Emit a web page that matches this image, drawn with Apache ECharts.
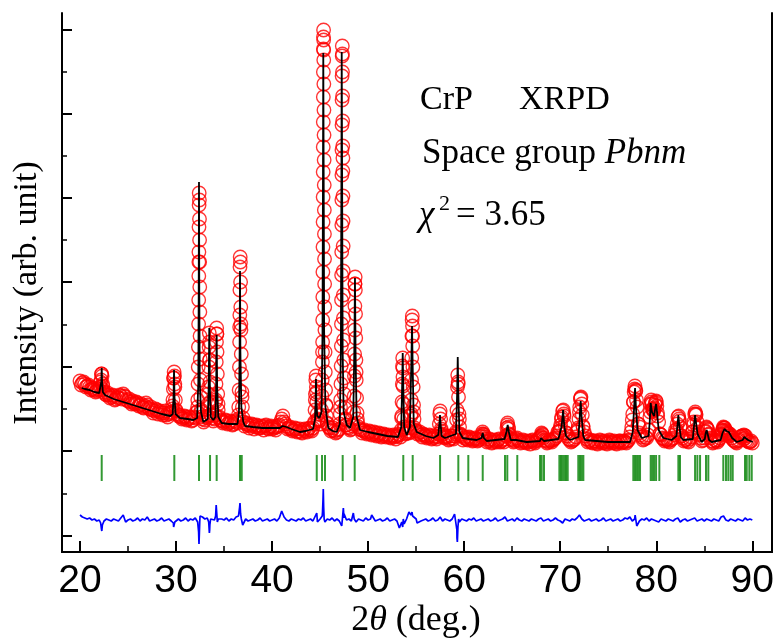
<!DOCTYPE html>
<html>
<head>
<meta charset="utf-8">
<script src="https://cdn.jsdelivr.net/npm/echarts@6/dist/echarts.min.js"></script>
<style>html,body{margin:0;padding:0;background:#fff}#c{width:776px;height:641px}</style>
</head>
<body>
<div id="c"></div>
<script>
// ---- axis ticks ----
const xMajorTicks = [20, 30, 40, 50, 60, 70, 80, 90];
const xMinorTicks = [25, 35, 45, 55, 65, 75, 85];
const yMajorTicks = [16.3, 101, 185.3, 270, 354, 438.3, 522.7];
const yMinorTicks = [58.6, 143.2, 227.6, 312, 396.2, 480.5];

// ---- observed intensity, regular 2theta grid (20.00 .. 90.00, step 0.25) ----
const obsStart = 20, obsStep = 0.25;
const obsGrid = [
171,169,168,166,165,163,162,161,162,178,
160,157,157,155,156,153,154,156,158,155,
151,150,151,148,149,147,145,146,147,143,
142,141,142,140,139,139,137,138,140,174,
141,136,135,134,135,133,134,132,134,145,
216,133,132,134,192,134,133,218,135,131,
130,131,129,130,128,130,137,228,130,128,
127,126,127,125,126,124,125,126,124,125,
123,124,125,127,133,130,126,124,123,122,
123,121,120,122,121,123,122,124,152,133,
128,200,222,128,124,122,121,120,123,300,
158,127,124,123,140,180,125,122,121,120,
119,120,118,119,117,118,116,117,116,115,
116,115,116,117,136,125,119,119,138,140,
121,119,117,118,116,115,116,114,115,115,
141,118,114,115,113,114,116,142,133,116,
114,113,115,113,112,113,112,115,118,113,
111,112,110,111,112,110,112,113,127,117,
112,111,114,111,110,111,109,110,111,110,
111,113,116,114,111,110,111,112,114,120,
124,141,127,116,112,111,113,120,140,148,
120,113,111,110,111,109,110,111,110,109,
110,111,110,109,110,111,110,110,111,115,
132,163,145,125,115,113,114,122,150,142,
150,130,117,113,112,111,112,114,122,135,
125,114,112,111,113,120,138,130,118,111,
114,124,118,111,110,111,112,118,124,121,
119,117,112,110,111,115,116,114,111,110,
109];
// interleaved observed points (20.125 .. 89.875, step 0.25)
const obsStart2 = 20.125;
const obsGrid2 = [
167,170,165,167,162,164,160,163,170,166,
158,159,154,157,152,155,157,153,156,152,
153,148,149,150,146,148,144,149,144,145,
139,143,138,141,137,141,135,139,146,168,
138,137,133,136,132,135,131,135,140,290,
140,130,135,158,137,131,152,148,132,129,
132,128,131,127,131,129,225,155,126,129,
124,128,123,127,124,126,122,127,123,126,
125,122,126,130,136,128,123,125,121,124,
120,123,119,123,120,124,121,128,160,131,
137,502,146,125,121,124,119,122,145,394,
132,125,122,126,268,133,123,119,122,118,
121,117,120,116,119,115,118,115,117,114,
117,113,118,115,175,118,121,120,216,122,
118,120,115,117,114,117,113,116,113,118,
121,115,116,112,116,113,118,168,117,112,
115,112,114,111,114,111,113,118,115,110,
113,109,112,110,113,111,110,116,123,113,
110,113,112,109,112,110,111,108,112,109,
112,114,118,112,109,112,110,113,116,121,
133,138,119,113,110,112,115,124,154,126,
116,110,112,109,111,108,112,109,111,108,
112,109,111,108,111,109,111,109,112,120,
150,161,128,117,112,115,117,140,143,147,
139,118,114,111,113,110,113,117,122,133,
116,111,113,110,115,127,138,120,114,112,
120,122,114,109,112,110,114,121,124,119,
118,114,111,109,112,116,117,112,110,111];

// ---- observed intensity, extra points across the Bragg peaks [2theta, I] ----
const obsPeaks = [
[22.15,165],[22.2,172],[22.24,178],[22.3,176],[22.35,168],[22.42,162],
[29.62,143],[29.68,152],[29.72,163],[29.76,174],[29.8,180],[29.84,176],[29.88,165],[29.93,152],[30.0,142],
[32.22,140],[32.26,152],[32.29,168],[32.31,185],[32.33,205],[32.35,228],[32.36,252],[32.37,276],[32.38,300],[32.39,325],[32.40,347],[32.41,359],[32.43,352],[32.44,333],[32.45,312],[32.46,290],[32.47,265],[32.48,240],[32.52,193],[32.54,172],[32.57,155],[32.61,142],[32.67,135],
[33.3,136],[33.35,148],[33.39,165],[33.42,185],[33.44,205],[33.46,219],[33.48,210],[33.5,192],[33.53,170],[33.57,150],[33.62,137],
[34.07,137],[34.12,150],[34.16,168],[34.19,190],[34.21,210],[34.23,224],[34.25,218],[34.27,200],[34.3,178],[34.34,158],[34.39,142],[34.45,134],
[36.48,133],[36.53,145],[36.57,162],[36.6,185],[36.62,210],[36.64,237],[36.65,262],[36.66,285],[36.68,295],[36.7,290],[36.72,270],[36.74,245],[36.76,222],[36.79,198],[36.82,178],[36.86,160],[36.91,145],[36.98,134],
[44.42,130],[44.47,142],[44.51,158],[44.55,172],[44.58,176],[44.61,165],[44.65,150],[44.7,138],[44.78,132],
[45.1,132],[45.15,142],[45.19,156],[45.22,172],[45.24,190],[45.26,210],[45.27,232],[45.28,255],[45.29,280],[45.3,305],[45.31,330],[45.315,355],[45.32,380],[45.325,405],[45.33,430],[45.335,455],[45.34,480],[45.345,503],[45.35,515],[45.36,522],[45.37,512],[45.38,492],[45.39,468],[45.4,442],[45.41,417],[45.42,392],[45.43,367],[45.44,342],[45.45,318],[45.46,293],[45.47,268],[45.48,245],[45.52,200],[45.54,180],[45.57,162],[45.61,147],[45.66,136],[45.73,129],
[47.05,128],[47.1,138],[47.14,152],[47.17,168],[47.19,186],[47.21,206],[47.22,228],[47.23,252],[47.24,277],[47.26,327],[47.265,352],[47.27,377],[47.275,402],[47.28,427],[47.285,452],[47.29,476],[47.3,496],[47.31,506],[47.32,498],[47.33,480],[47.34,456],[47.35,431],[47.36,406],[47.37,381],[47.38,356],[47.39,331],[47.4,306],[47.41,281],[47.42,257],[47.43,234],[47.45,212],[47.47,192],[47.49,174],[47.56,144],[47.61,133],[47.68,127],
[48.45,128],[48.54,156],[48.57,176],[48.59,198],[48.61,222],[48.62,246],[48.63,268],[48.65,275],[48.67,262],[48.69,238],[48.71,214],[48.73,192],[48.76,172],[48.8,154],[48.85,139],[48.92,129],
[53.44,122],[53.49,134],[53.53,150],[53.56,168],[53.58,186],[53.6,194],[53.62,184],[53.64,166],[53.67,148],[53.71,133],[53.77,123],
[54.4,124],[54.45,136],[54.49,152],[54.52,172],[54.54,194],[54.56,216],[54.58,232],[54.6,236],[54.62,226],[54.64,206],[54.66,185],[54.69,165],[54.73,147],[54.78,133],[54.85,124],
[57.35,118],[57.41,128],[57.46,138],[57.55,133],[57.61,123],[57.68,117],
[59.15,120],[59.21,132],[59.3,165],[59.33,177],[59.37,170],[59.41,155],[59.46,138],[59.52,125],[59.6,118],
[61.85,116],[61.92,120],[62.06,117],
[64.38,116],[64.45,124],[64.52,129],[64.6,125],[64.68,118],
[67.98,115],[68.06,119],[68.14,117],
[69.95,120],[70.05,127],[70.15,135],[70.32,142],[70.4,136],[70.6,119],
[71.85,122],[71.95,133],[72.03,145],[72.1,153],[72.16,155],[72.3,137],[72.38,125],
[77.45,125],[77.55,138],[77.63,150],[77.7,160],[77.78,166],[77.86,162],[77.94,152],[78.12,128],[78.22,119],
[79.33,135],[79.4,148],[79.47,152],[79.55,148],[79.63,143],[79.72,141],[79.8,144],[79.9,149],[79.98,151],[80.06,146],[80.15,136],[80.35,118],
[82.1,120],[82.18,128],[82.33,136],[82.41,131],[82.6,116],
[83.8,120],[83.9,130],[84.06,140],[84.14,137],[84.32,124],[84.42,117],
[85.13,121],[85.22,125],[85.31,123],[85.4,117],
[86.8,117],[86.9,122],[86.99,125],[87.08,124],[87.17,122],[87.3,120],[87.42,118],[87.6,116],
[89.1,113],[89.2,116],[89.3,116]
];

// ---- calculated profile [2theta, I] ----
const calcProfile = [
[20.18,164],[20.5,163],[21.0,162],[21.5,160],[22.0,159],[22.15,161],[22.22,170],[22.26,184],[22.3,170],[22.38,160],[22.6,157],
[23.5,153],[24.5,150],[25.5,147],[26.5,144],[27.5,141],[28.5,138],[29.4,136],[29.65,138],[29.74,155],[29.79,182],[29.84,155],[29.95,138],[30.4,134],[31.2,133],[31.8,132],
[32.2,134],[32.32,170],[32.36,260],[32.39,370],[32.42,260],[32.47,170],[32.6,140],[32.84,130],
[33.3,133],[33.4,165],[33.46,224],[33.52,165],[33.62,135],[33.88,132],
[34.1,135],[34.18,165],[34.23,217],[34.28,165],[34.4,135],[34.75,129],[35.5,128],
[36.4,128],[36.55,140],[36.62,200],[36.66,281],[36.7,200],[36.8,145],[37.0,130],[37.18,126],
[38.0,125],[39.0,124],[40.0,124],[40.8,124],[41.1,126],[41.5,125],[42.0,123],[42.9,120],[43.5,121],[44.26,123],
[44.48,133],[44.54,155],[44.57,173],[44.61,150],[44.7,136],[44.92,134],
[45.15,140],[45.25,220],[45.3,380],[45.33,499],[45.37,380],[45.42,220],[45.55,145],[45.85,124],[46.3,121],[46.73,120],
[47.05,128],[47.16,200],[47.22,380],[47.25,500],[47.29,380],[47.35,200],[47.45,140],[47.77,127],[48.11,124],
[48.45,135],[48.56,200],[48.63,274],[48.69,200],[48.8,135],[49.15,122],[50.0,120],[51.0,118],[52.0,116],[53.11,115],
[53.45,125],[53.55,170],[53.6,199],[53.65,170],[53.75,125],[54.02,117],
[54.35,125],[54.5,190],[54.57,226],[54.63,190],[54.75,128],[55.06,120],[56.0,116],[56.79,114],
[57.3,117],[57.44,130],[57.48,137],[57.53,130],[57.65,116],[58.0,114],
[59.15,118],[59.27,160],[59.33,195],[59.39,160],[59.5,120],[59.85,114],[60.5,113],[61.3,112],
[61.8,114],[61.93,119],[62.05,114],[62.35,111],[64.2,113],[64.4,120],[64.53,127],[64.65,120],[64.85,112],
[65.4,112],[65.5,114],[65.6,112],[66.51,110],[67.9,111],[68.0,114],[68.07,116],[68.14,114],[68.3,111],
[69.8,113],[69.95,118],[70.05,120],[70.15,126],[70.3,142],[70.42,126],[70.6,116],[71.0,112],
[71.9,115],[72.03,135],[72.13,151],[72.23,135],[72.4,116],[72.58,112],[75.0,110],[77.27,110],
[77.55,120],[77.7,145],[77.79,164],[77.88,145],[78.05,122],[78.49,114],
[79.2,116],[79.32,130],[79.42,149],[79.55,140],[79.77,136],[79.9,144],[79.98,148],[80.08,140],[80.25,122],[80.74,114],
[81.6,112],[82.1,116],[82.22,128],[82.3,137],[82.38,128],[82.55,115],[82.82,112],
[83.8,113],[83.95,128],[84.04,137],[84.13,130],[84.3,118],[84.73,110],
[85.05,113],[85.15,119],[85.25,122],[85.35,118],[85.5,112],[85.77,110],
[86.7,112],[86.9,119],[87.09,123],[87.3,121],[87.55,120],[87.68,119],[87.9,114],[88.38,110],
[89.0,112],[89.15,115],[89.24,117],[89.35,115],[89.55,112],[90.04,110]
];

// ---- difference curve (Iobs - Icalc, offset), grid 20.00 .. 90.00 step 0.25 ----
const diffGrid = [
37,35,34,33,34,32,33,31,32,23,
31,33,32,31,33,32,31,34,37,30,
32,33,31,32,34,31,33,32,35,31,
32,33,31,32,34,31,32,33,31,25,
32,33,31,32,34,31,33,32,34,30,
36,35,33,34,22,34,32,38,31,33,
32,34,31,33,32,35,36,40,29,33,
31,32,33,31,32,34,31,32,33,31,
32,33,31,34,41,35,32,31,33,32,
31,33,32,34,31,32,33,31,36,30,
33,40,30,33,32,34,31,33,31,26,
38,32,33,31,37,30,33,32,31,34,
32,33,36,31,32,33,31,32,34,31,
32,33,31,24,30,28,33,40,38,36,
33,27,31,32,33,31,32,34,31,32,
35,31,33,32,31,33,38,14,30,33,
32,31,33,32,34,31,32,33,31,32,
33,31,32,34,31,32,33,35,31,32,
33,31,34,32,31,33,32,31,33,32,
31,33,34,31,32,33,31,32,34,32,
31,29,33,32,31,33,32,34,37,33,
31,32,33,31,32,33,31,32,34,31,
32,33,31,32,33,31,32,34,33,35,
31,33,27,31,33,32,34,31,33,35,
31,30,33,32,31,33,32,31,33,34,
30,32,33,31,32,33,34,31,32,33,
31,33,32,31,33,32,31,35,36,32,
31,33,32,31,33,32,31,34,32,33,
32];
const diffPeaks = [
[22.15,29],[22.22,24],[22.27,21],[22.33,27],
[29.72,29],[29.8,24],[29.87,30],
[32.3,29],[32.35,20],[32.39,8],[32.43,19],[32.47,31],[32.6,37],[32.84,36],
[33.4,30],[33.47,19],[33.52,27],[33.6,33],
[34.12,36],[34.18,47],[34.23,40],[34.3,30],[34.4,33],
[36.55,37],[36.62,45],[36.66,49],[36.72,38],[36.8,33],[36.94,27],
[41.05,42],
[44.55,36],[44.65,39],[44.72,30],
[45.22,36],[45.3,52],[45.33,63],[45.37,45],[45.42,33],
[47.2,30],[47.27,25],[47.32,33],[47.42,44],[47.48,34],
[48.46,39],[48.55,33],[48.63,35],
[50.37,37],
[53.45,22],[53.55,28],[53.6,25],[53.66,33],
[54.36,42],[54.45,37],[54.57,40],[54.63,36],[55.1,29],[55.23,27],
[59.05,40],[59.15,36],[59.24,22],[59.29,10],[59.35,25],[59.42,33],
[70.32,29],[72.06,38],[77.27,34],[77.8,37],[77.97,26],[79.7,35],[86.82,37]
];

// ---- Bragg reflection positions (2theta) ----
const braggPositions = [
22.26,29.82,32.39,33.54,34.23,36.66,36.84,44.65,45.20,45.51,47.35,48.60,53.66,54.64,
57.49,59.39,60.43,61.93,64.25,64.49,65.53,67.90,68.07,68.31,
69.91,70.08,70.26,70.43,70.60,70.78,71.88,72.06,72.24,72.41,
77.61,77.79,77.97,78.13,78.31,79.42,79.59,79.77,79.98,80.32,82.30,82.47,
84.04,84.28,84.56,85.18,85.42,86.98,87.26,87.50,87.75,87.96,89.24,89.42,89.69,89.94
];
const braggLevel = 84;

// ---- build tables for the library ----
const obsData = obsGrid.map((v, i) => [obsStart + i * obsStep, v])
  .concat(obsGrid2.map((v, i) => [obsStart2 + i * obsStep, v]))
  .concat(obsPeaks);
const diffData = diffGrid.map((v, i) => [obsStart + i * obsStep, v]).concat(diffPeaks).sort((a, b) => a[0] - b[0]);
const braggData = braggPositions.map(p => [p, braggLevel]);

const X_MIN = 18.126, X_MAX = 92.05, Y_MIN = 0, Y_MAX = 539;
const SERIF = '"Liberation Serif","Times New Roman",serif';
const SANS = '"Liberation Sans",Arial,sans-serif';

const chart = echarts.init(document.getElementById('c'), null, {renderer: 'canvas'});
chart.setOption({
  animation: false,
  backgroundColor: '#fff',
  grid: {left: 62, right: 4, top: 13, bottom: 89, containLabel: false, outerBoundsMode: 'none'},
  xAxis: [
    {type: 'value', position: 'bottom', min: X_MIN, max: X_MAX,
     axisLine: {show: true, lineStyle: {color: '#000', width: 2}},
     axisTick: {show: true, inside: true, length: 11, customValues: xMajorTicks, lineStyle: {color: '#000', width: 2}},
     axisLabel: {show: true, customValues: xMajorTicks, fontSize: 39, fontFamily: SANS, color: '#000', margin: 10},
     splitLine: {show: false}},
    {type: 'value', position: 'bottom', min: X_MIN, max: X_MAX,
     axisLine: {show: false},
     axisTick: {show: true, inside: true, length: 6, customValues: xMinorTicks, lineStyle: {color: '#000', width: 1.5}},
     axisLabel: {show: false}, splitLine: {show: false}},
    {type: 'value', position: 'top', min: X_MIN, max: X_MAX,
     axisLine: {show: true, lineStyle: {color: '#000', width: 2}},
     axisTick: {show: false}, axisLabel: {show: false}, splitLine: {show: false}}
  ],
  yAxis: [
    {type: 'value', position: 'left', min: Y_MIN, max: Y_MAX,
     axisLine: {show: true, lineStyle: {color: '#000', width: 2}},
     axisTick: {show: true, inside: true, length: 10, customValues: yMajorTicks, lineStyle: {color: '#000', width: 2}},
     axisLabel: {show: false}, splitLine: {show: false}},
    {type: 'value', position: 'left', min: Y_MIN, max: Y_MAX,
     axisLine: {show: false},
     axisTick: {show: true, inside: true, length: 5, customValues: yMinorTicks, lineStyle: {color: '#000', width: 1.5}},
     axisLabel: {show: false}, splitLine: {show: false}},
    {type: 'value', position: 'right', min: Y_MIN, max: Y_MAX,
     axisLine: {show: true, lineStyle: {color: '#000', width: 2}},
     axisTick: {show: false}, axisLabel: {show: false}, splitLine: {show: false}}
  ],
  series: [
    {name: 'obs', type: 'scatter', data: obsData, symbol: 'circle', symbolSize: 13.5, silent: true, z: 2,
     itemStyle: {color: 'rgba(255,255,255,0)', borderColor: '#ff0000', borderWidth: 1.35}},
    {name: 'calc', type: 'line', data: calcProfile, showSymbol: false, silent: true, z: 3,
     lineStyle: {color: '#000', width: 1.8}},
    {name: 'bragg', type: 'scatter', data: braggData, symbol: 'rect', symbolSize: [2, 26], silent: true, z: 3,
     itemStyle: {color: '#008000'}},
    {name: 'diff', type: 'line', data: diffData, showSymbol: false, silent: true, z: 3,
     lineStyle: {color: '#0000ff', width: 1.7}}
  ],
  graphic: [
    {type: 'text', x: 27, y: 293, rotation: Math.PI / 2,
     style: {text: 'Intensity (arb. unit)', font: '34px ' + SERIF, fill: '#000', align: 'center', verticalAlign: 'middle'}},
    {type: 'text', x: 416, y: 621,
     style: {text: '{n|2}{i|θ}{n| (deg.)}', align: 'center', verticalAlign: 'middle', fill: '#000',
       rich: {n: {fontSize: 36, fontFamily: SERIF, color: '#000'}, i: {fontSize: 36, fontFamily: SERIF, fontStyle: 'italic', color: '#000'}}}},
    {type: 'text', x: 420, y: 100, style: {text: 'CrP', font: '34px ' + SERIF, fill: '#000', align: 'left', verticalAlign: 'middle'}},
    {type: 'text', x: 519, y: 100, style: {text: 'XRPD', font: '34px ' + SERIF, fill: '#000', align: 'left', verticalAlign: 'middle'}},
    {type: 'text', x: 422, y: 154,
     style: {text: '{n|Space group }{i|Pbnm}', align: 'left', verticalAlign: 'middle', fill: '#000',
       rich: {n: {fontSize: 35, fontFamily: SERIF, color: '#000'}, i: {fontSize: 35, fontFamily: SERIF, fontStyle: 'italic', color: '#000'}}}},
    {type: 'text', x: 419, y: 216, style: {text: 'χ', font: 'italic 35px ' + SERIF, fill: '#000', align: 'left', verticalAlign: 'middle'}},
    {type: 'text', x: 439, y: 204, style: {text: '2', font: '22px ' + SERIF, fill: '#000', align: 'left', verticalAlign: 'middle'}},
    {type: 'text', x: 456, y: 216, style: {text: '= 3.65', font: '35px ' + SERIF, fill: '#000', align: 'left', verticalAlign: 'middle'}}
  ]
});
</script>
</body>
</html>
